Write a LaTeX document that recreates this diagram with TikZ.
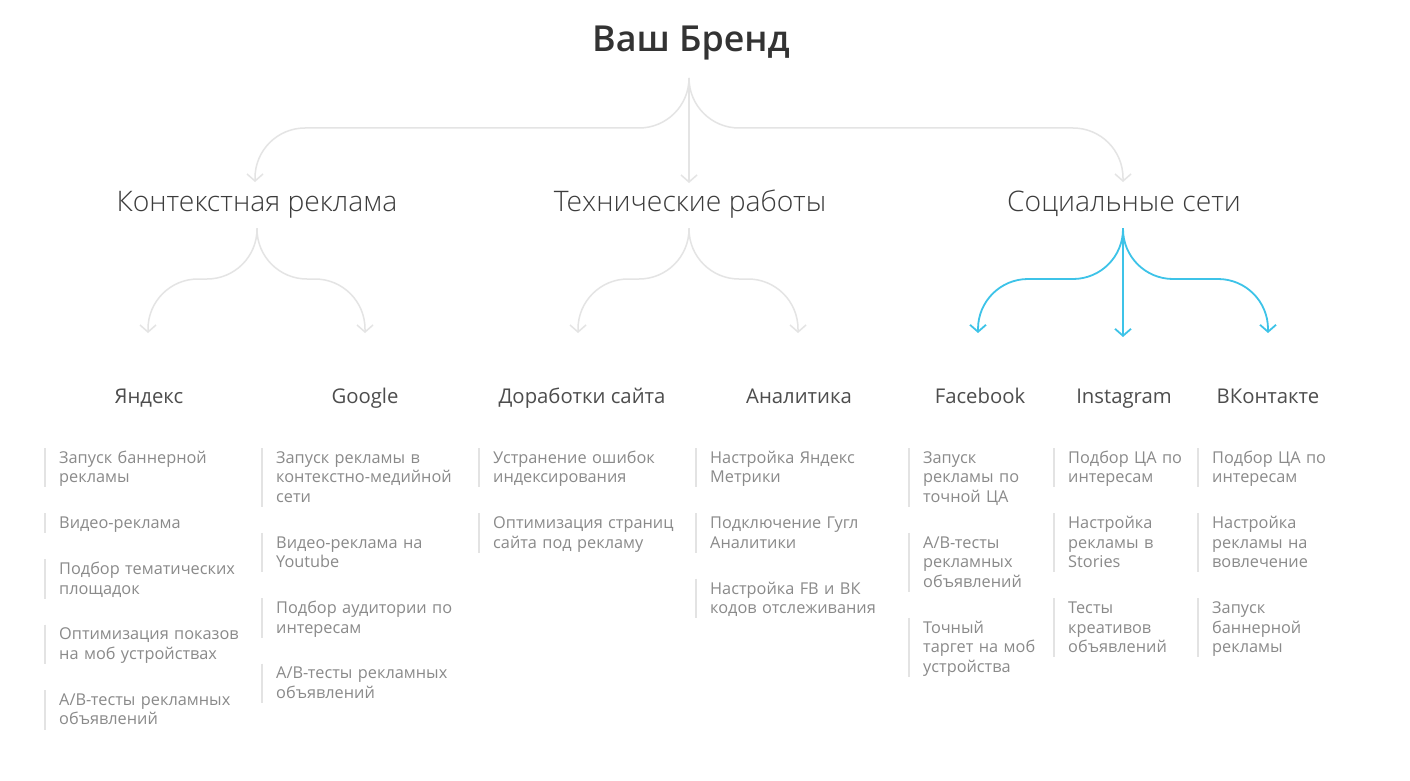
\documentclass[tikz,border=0pt]{standalone}
\usepackage{fontspec}
\setmainfont{Open Sans}
\IfFontExistsTF{Open Sans Light}{\newfontfamily\lightfont{Open Sans Light}}{\newcommand\lightfont{}}
\IfFontExistsTF{Open Sans Semibold}{\newfontfamily\semifont{Open Sans Semibold}}{\newcommand\semifont{\bfseries}}
\usetikzlibrary{arrows.meta, positioning}
\definecolor{linegray}{HTML}{E4E4E4}
\definecolor{socialblue}{HTML}{3DC3E8}
\definecolor{titlegray}{HTML}{333333}
\definecolor{headgray}{HTML}{3C3C3C}
\definecolor{subgray}{HTML}{4D4D4D}
\definecolor{taskgray}{HTML}{8A8A8A}
\definecolor{bargray}{HTML}{E3E3E3}

\begin{document}
\begin{tikzpicture}[x=1pt, y=-1pt,
  brand/.style={font=\semifont\fontsize{35.8}{40}\selectfont, text=titlegray, inner sep=0pt, anchor=base},
  branch/.style={font=\lightfont\fontsize{28.3}{32}\selectfont, text=headgray, inner sep=0pt, anchor=base},
  channel/.style={font=\fontsize{20.3}{24}\selectfont, text=subgray, inner sep=0pt, anchor=base},
  taskbar/.style={draw=bargray, line width=1.5pt},
  task/.style={font=\fontsize{16.3}{19.5}\selectfont, text=taskgray, text width=210pt, align=left, inner sep=0pt,
    execute at begin node={\rule{0pt}{15pt}}, execute at end node={\rule[-4.5pt]{0pt}{4.5pt}},
    append after command={\pgfextra{\draw[taskbar] ([xshift=-14pt]\tikzlastnode.north west) -- ([xshift=-14pt]\tikzlastnode.south west);}}},
  next/.style={below right=26pt and 0pt of #1.south west},
  link/.style={draw=linegray, line width=1.5pt, -{Straight Barb[length=7pt,width=16pt]}},
  social/.style={link, draw=socialblue, line width=1.8pt}
]
\fill[white] (0,0) rectangle (1410,781);
\useasboundingbox (0,0) rectangle (1410,781);
%
\node[brand] (brandname) at (691,52) {Ваш Бренд};
\node[branch] (context) at (257,211) {Контекстная реклама};
\node[branch] (tech) at (690,211) {Технические работы};
\node[branch] (social) at (1124,211) {Социальные сети};
%
\node[channel] (yandex) at (149,403) {Яндекс};
\node[channel] (google) at (365,403) {Google};
\node[channel] (site) at (582,403) {Доработки сайта};
\node[channel] (analytics) at (799,403) {Аналитика};
\node[channel] (facebook) at (980,403) {Facebook};
\node[channel] (instagram) at (1124,403) {Instagram};
\node[channel] (vk) at (1268,403) {ВКонтакте};
% forks, bends and arrow ends
\coordinate (b0) at (689,78);
\coordinate (b1) at (255,128);
\coordinate (b3) at (1123,128);
\coordinate (c1) at (255,182);
\coordinate (c2) at (689,183);
\coordinate (c3) at (1123,182);
\coordinate (k0) at (257,228);
\coordinate (k1) at (148,279);
\coordinate (k2) at (365,279);
\coordinate (ka) at (148,333);
\coordinate (kb) at (365,333);
\coordinate (t0) at (689,228);
\coordinate (t1) at (578,279);
\coordinate (t2) at (798,279);
\coordinate (ta) at (578,333);
\coordinate (tb) at (798,333);
\coordinate (s0) at (1123,228);
\coordinate (s1) at (978,279);
\coordinate (s3) at (1268,279);
\coordinate (sa) at (978,333);
\coordinate (sb) at (1123,337);
\coordinate (sc) at (1268,333);
%
\draw[link, rounded corners=50pt] (b0) |- (b1) -- (c1);
\draw[link] (b0) -- (c2);
\draw[link, rounded corners=50pt] (b0) |- (b3) -- (c3);
\draw[link, rounded corners=50pt] (k0) |- (k1) -- (ka);
\draw[link, rounded corners=50pt] (k0) |- (k2) -- (kb);
\draw[link, rounded corners=50pt] (t0) |- (t1) -- (ta);
\draw[link, rounded corners=50pt] (t0) |- (t2) -- (tb);
\draw[social, rounded corners=50pt] (s0) |- (s1) -- (sa);
\draw[social] (s0) -- (sb);
\draw[social, rounded corners=50pt] (s0) |- (s3) -- (sc);
% task lists, column by column
\node[task, anchor=north west] (ya1) at (59,448) {Запуск баннерной\\рекламы};
\node[task, next=ya1] (ya2) {Видео-реклама};
\node[task, next=ya2] (ya3) {Подбор тематических\\площадок};
\node[task, next=ya3] (ya4) {Оптимизация показов\\на моб устройствах};
\node[task, next=ya4] (ya5) {A/B-тесты рекламных\\объявлений};
%
\node[task, anchor=north west] (go1) at (276,448) {Запуск рекламы в\\контекстно-медийной\\сети};
\node[task, next=go1] (go2) {Видео-реклама на\\Youtube};
\node[task, next=go2] (go3) {Подбор аудитории по\\интересам};
\node[task, next=go3] (go4) {A/B-тесты рекламных\\объявлений};
%
\node[task, anchor=north west] (si1) at (493,448) {Устранение ошибок\\индексирования};
\node[task, next=si1] (si2) {Оптимизация страниц\\сайта под рекламу};
%
\node[task, anchor=north west] (an1) at (710,448) {Настройка Яндекс\\Метрики};
\node[task, next=an1] (an2) {Подключение Гугл\\Аналитики};
\node[task, next=an2] (an3) {Настройка FB и ВК\\кодов отслеживания};
%
\node[task, anchor=north west] (fb1) at (923,448) {Запуск\\рекламы по\\точной ЦА};
\node[task, next=fb1] (fb2) {A/B-тесты\\рекламных\\объявлений};
\node[task, next=fb2] (fb3) {Точный\\таргет на моб\\устройства};
%
\node[task, anchor=north west] (ig1) at (1068,448) {Подбор ЦА по\\интересам};
\node[task, next=ig1] (ig2) {Настройка\\рекламы в\\Stories};
\node[task, next=ig2] (ig3) {Тесты\\креативов\\объявлений};
%
\node[task, anchor=north west] (vk1) at (1212,448) {Подбор ЦА по\\интересам};
\node[task, next=vk1] (vk2) {Настройка\\рекламы на\\вовлечение};
\node[task, next=vk2] (vk3) {Запуск\\баннерной\\рекламы};
\end{tikzpicture}
\end{document}
